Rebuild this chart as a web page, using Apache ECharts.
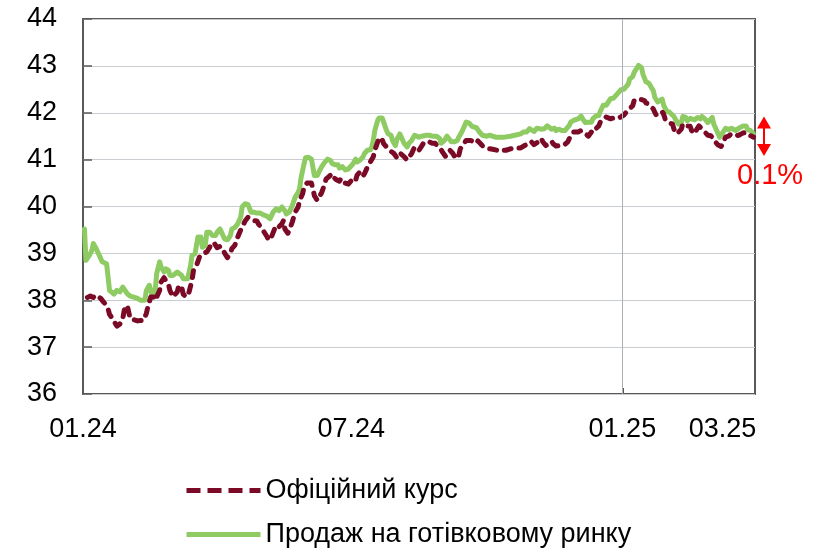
<!DOCTYPE html>
<html>
<head>
<meta charset="utf-8">
<script src="https://cdn.jsdelivr.net/npm/echarts@6/dist/echarts.min.js"></script>
<style>
  html, body { margin: 0; padding: 0; background: #fff; }
  #chart { width: 819px; height: 548px; }
</style>
</head>
<body>
<div id="chart"></div>
<script>
// UAH per USD. Each point is [day offset from 1 Jan 2024, rate].
const tickLabels = ['01.24', '07.24', '01.25', '03.25'];
const tickDays = [0, 182, 366, 434];
const lastDay = 456;
const yearStartDay = 366;

const officialName = 'Офіційний курс';
const cashName = 'Продаж на готівковому ринку';
const gapLabel = '0.1%';

const officialRate = [
  [3,38.06],[5,38.09],[7,38.06],[9,38.11],[10,38.11],[12,38.04],[14,37.96],[16,37.89],[17,37.82],[18,37.70],
  [20,37.61],[22,37.50],[23,37.45],[25,37.49],[27,37.61],[28,37.79],[30,37.89],[31,37.75],[32,37.61],[34,37.59],
  [35,37.61],[37,37.56],[39,37.57],[41,37.57],[42,37.61],[43,37.72],[44,37.86],[46,38.07],[47,38.09],[48,38.07],
  [49,38.00],[50,38.07],[52,38.21],[53,38.39],[55,38.48],[56,38.43],[58,38.34],[59,38.21],[61,38.07],[62,38.04],
  [64,38.18],[65,38.32],[67,38.27],[68,38.13],[70,38.07],[72,38.18],[74,38.43],[75,38.64],[77,38.74],[79,38.92],
  [81,38.99],[82,38.96],[84,39.03],[86,39.13],[87,39.21],[89,39.22],[91,39.12],[93,39.15],[95,39.10],[96,39.01],
  [98,38.91],[100,38.99],[101,39.10],[103,39.17],[105,39.35],[107,39.50],[108,39.56],[110,39.69],[112,39.77],[113,39.76],
  [115,39.70],[116,39.67],[118,39.69],[119,39.63],[121,39.55],[123,39.45],[125,39.35],[126,39.28],[128,39.36],[130,39.52],
  [131,39.60],[133,39.57],[135,39.63],[136,39.70],[137,39.52],[139,39.43],[140,39.49],[142,39.67],[144,39.88],[146,39.99],
  [147,40.13],[149,40.27],[150,40.41],[152,40.50],[153,40.52],[155,40.50],[156,40.38],[157,40.23],[159,40.13],[160,40.16],
  [162,40.30],[164,40.48],[165,40.59],[167,40.64],[169,40.70],[170,40.62],[172,40.57],[174,40.54],[175,40.59],[177,40.57],
  [178,40.50],[180,40.48],[182,40.55],[183,40.60],[185,40.56],[186,40.67],[188,40.74],[190,40.65],[191,40.70],[193,40.84],
  [195,40.95],[197,41.06],[198,41.20],[200,41.38],[201,41.47],[203,41.43],[204,41.34],[206,41.27],[208,41.20],[209,41.23],
  [211,41.13],[213,41.04],[215,41.14],[216,41.13],[218,41.06],[220,40.99],[221,41.00],[223,41.13],[225,41.27],[226,41.23],
  [228,41.20],[230,41.30],[231,41.35],[233,41.34],[235,41.38],[237,41.35],[238,41.38],[239,41.35],[241,41.27],[243,41.21],
  [244,41.16],[246,41.07],[248,41.13],[249,41.20],[251,41.13],[253,41.02],[255,41.09],[256,41.23],[258,41.33],[260,41.41],
  [261,41.45],[263,41.41],[265,41.38],[267,41.35],[268,41.40],[270,41.33],[272,41.27],[274,41.25],[276,41.23],[278,41.22],
  [281,41.20],[283,41.18],[285,41.20],[287,41.20],[290,41.23],[294,41.25],[297,41.25],[299,41.29],[302,41.34],[304,41.39],
  [306,41.32],[307,41.29],[309,41.38],[311,41.45],[312,41.38],[314,41.30],[316,41.34],[318,41.39],[319,41.34],[321,41.29],
  [322,41.32],[324,41.30],[326,41.30],[327,41.27],[329,41.38],[331,41.52],[333,41.59],[334,41.62],[336,41.59],[338,41.62],
  [339,41.66],[341,41.55],[343,41.50],[345,41.59],[346,41.67],[348,41.66],[350,41.72],[351,41.80],[353,41.87],[355,41.91],
  [356,41.91],[358,41.87],[360,41.89],[361,41.87],[363,41.88],[365,41.91],[367,41.95],[368,41.99],[370,42.06],[371,42.09],
  [373,42.15],[374,42.26],[376,42.29],[377,42.29],[379,42.28],[381,42.26],[382,42.21],[384,42.18],[385,42.15],[387,42.08],
  [388,42.01],[389,41.95],[391,41.99],[393,42.02],[394,41.97],[395,41.87],[397,41.79],[398,41.83],[400,41.76],[401,41.65],
  [403,41.55],[404,41.57],[406,41.65],[407,41.76],[409,41.72],[410,41.69],[412,41.71],[413,41.62],[415,41.55],[416,41.62],
  [418,41.72],[419,41.69],[421,41.62],[422,41.58],[424,41.52],[426,41.51],[428,41.45],[429,41.38],[431,41.31],[433,41.28],
  [434,41.33],[436,41.48],[438,41.50],[440,41.55],[441,41.55],[443,41.51],[445,41.52],[446,41.55],[448,41.57],[450,41.58],
  [451,41.57],[453,41.51],[455,41.48]
];

const cashSellRate = [
  [1,39.52],[2,38.85],[4,38.94],[6,39.06],[7,39.21],[9,39.10],[11,38.96],[13,38.82],[16,38.78],[17,38.50],
  [18,38.21],[21,38.13],[23,38.21],[25,38.18],[27,38.28],[28,38.27],[30,38.14],[32,38.09],[35,38.06],[37,38.04],
  [39,38.00],[42,38.00],[43,38.21],[45,38.32],[46,38.21],[47,38.09],[49,38.21],[50,38.57],[52,38.82],[53,38.71],
  [55,38.60],[56,38.67],[58,38.64],[59,38.53],[61,38.53],[64,38.60],[65,38.64],[67,38.53],[68,38.46],[71,38.46],
  [73,38.74],[74,38.96],[76,38.99],[78,39.35],[80,39.35],[81,39.13],[83,39.17],[84,39.45],[86,39.45],[88,39.38],
  [90,39.38],[91,39.45],[93,39.52],[95,39.38],[96,39.31],[98,39.29],[100,39.38],[101,39.52],[103,39.55],[105,39.63],
  [107,39.77],[108,39.99],[110,40.06],[112,40.04],[114,39.88],[116,39.88],[118,39.86],[120,39.86],[122,39.83],[125,39.79],
  [127,39.74],[129,39.88],[131,39.95],[133,39.91],[135,39.99],[137,39.91],[138,39.84],[140,39.88],[142,40.02],[144,40.20],
  [146,40.30],[147,40.38],[148,40.62],[150,40.91],[151,41.04],[153,41.05],[155,41.01],[156,40.84],[157,40.66],[159,40.66],
  [160,40.73],[162,40.85],[164,40.94],[166,41.01],[168,40.98],[169,40.92],[171,40.89],[173,40.89],[174,40.82],[176,40.85],
  [178,40.78],[180,40.80],[181,40.83],[183,40.90],[185,41.01],[186,40.95],[188,40.99],[190,41.06],[191,41.13],[193,41.20],
  [195,41.21],[196,41.27],[197,41.41],[198,41.62],[200,41.84],[201,41.89],[203,41.89],[204,41.80],[206,41.62],[207,41.55],
  [209,41.52],[210,41.41],[212,41.30],[213,41.43],[215,41.55],[216,41.52],[218,41.34],[220,41.27],[221,41.34],[223,41.41],
  [225,41.52],[226,41.55],[228,41.48],[230,41.50],[231,41.52],[233,41.52],[235,41.52],[237,41.50],[238,41.52],[240,41.50],
  [242,41.45],[243,41.35],[245,41.40],[247,41.50],[248,41.52],[250,41.38],[252,41.38],[254,41.41],[255,41.48],[257,41.59],
  [259,41.73],[260,41.80],[262,41.78],[264,41.71],[265,41.73],[267,41.68],[269,41.59],[271,41.52],[272,41.54],[274,41.50],
  [276,41.52],[280,41.48],[283,41.48],[286,41.48],[290,41.50],[293,41.52],[297,41.55],[299,41.59],[301,41.59],[303,41.66],
  [304,41.62],[306,41.60],[308,41.67],[309,41.70],[311,41.65],[313,41.66],[315,41.72],[316,41.70],[318,41.65],[320,41.67],
  [321,41.62],[323,41.65],[325,41.62],[327,41.62],[328,41.62],[330,41.73],[331,41.80],[333,41.84],[334,41.80],[336,41.87],
  [338,41.93],[339,41.87],[341,41.79],[343,41.80],[345,41.80],[346,41.87],[348,41.93],[350,41.94],[351,42.03],[353,42.16],
  [355,42.16],[356,42.19],[358,42.30],[360,42.31],[361,42.35],[363,42.42],[365,42.49],[367,42.50],[368,42.52],[370,42.61],
  [371,42.72],[373,42.77],[374,42.86],[376,42.96],[377,43.01],[379,42.96],[380,42.82],[382,42.66],[384,42.63],[385,42.59],
  [387,42.47],[388,42.33],[390,42.23],[391,42.26],[393,42.29],[394,42.16],[396,42.04],[398,42.01],[399,41.97],[401,41.92],
  [403,41.81],[404,41.76],[406,41.79],[407,41.92],[409,41.90],[410,41.83],[412,41.88],[413,41.90],[415,41.85],[417,41.90],
  [419,41.87],[420,41.92],[422,41.87],[424,41.79],[425,41.81],[427,41.90],[428,41.76],[430,41.62],[432,41.48],[433,41.45],
  [435,41.62],[436,41.67],[438,41.64],[440,41.67],[441,41.64],[443,41.62],[445,41.67],[446,41.64],[448,41.72],[450,41.72],
  [451,41.64],[453,41.62],[455,41.55]
];

// Range spanned by the gap arrow on the right
const gapArrowRange = [41.92, 41.08];

const FONT = '"Liberation Sans", Arial, Helvetica, sans-serif';
const frameColor = '#595959';
const officialColor = '#7b0a26';
const cashColor = '#8fcb63';

// One legend block per row so the two entries stack vertically;
// the line sample is kept, the point marker is hidden.
function legendRow(name, top, dash) {
  return {
    show: true, orient: 'horizontal', left: 184, top: top, padding: 0,
    itemWidth: 74, itemHeight: 14, itemGap: 0,
    itemStyle: { opacity: 0 },
    lineStyle: { width: 5, cap: 'butt', type: dash },
    textStyle: { fontSize: 27, fontFamily: FONT, color: '#000' },
    data: [name]
  };
}

const chart = echarts.init(document.getElementById('chart'), null, { renderer: 'canvas' });

chart.setOption({
  animation: false,
  backgroundColor: '#fff',
  grid: {
    left: 83, top: 19, width: 672, height: 375,
    show: true, borderColor: frameColor, borderWidth: 2, backgroundColor: 'transparent'
  },
  xAxis: {
    type: 'value', min: 0, max: lastDay,
    axisLine: { show: false },
    splitLine: { show: false },
    axisTick: {
      show: true, inside: true, length: 6, customValues: [yearStartDay],
      lineStyle: { color: frameColor, width: 2 }
    },
    axisLabel: {
      customValues: tickDays,
      formatter: (v) => tickLabels[tickDays.indexOf(v)],
      fontSize: 27, color: '#000', fontFamily: FONT, margin: 22
    }
  },
  yAxis: {
    type: 'value', min: 36, max: 44, interval: 1,
    axisLine: { show: false },
    axisTick: { show: true, inside: true, length: 9, lineStyle: { color: frameColor, width: 1.5 } },
    splitLine: { show: true, lineStyle: { color: '#c9cdd1', width: 1 } },
    axisLabel: { fontSize: 27, color: '#000', fontFamily: FONT, margin: 26 }
  },
  legend: [legendRow(officialName, 477, [14, 7]), legendRow(cashName, 521, 'solid')],
  series: [
    {
      name: 'divider', type: 'line', data: [], z: 1, silent: true,
      markLine: {
        silent: true, symbol: 'none', label: { show: false },
        lineStyle: { color: '#a9b0b6', width: 1, type: 'solid' },
        data: [{ xAxis: yearStartDay }]
      }
    },
    {
      name: cashName, type: 'line', data: cashSellRate, z: 2,
      showSymbol: false, symbol: 'none',
      lineStyle: { color: cashColor, width: 5, join: 'round', cap: 'round' },
      itemStyle: { color: cashColor }
    },
    {
      name: officialName, type: 'line', data: officialRate, z: 3,
      showSymbol: false, symbol: 'none',
      lineStyle: { color: officialColor, width: 5, type: [7, 8], cap: 'round', join: 'round' },
      itemStyle: { color: officialColor }
    }
  ]
});

// Double-headed arrow and label marking the gap at the end of the period
const topPt = chart.convertToPixel({ gridIndex: 0 }, [lastDay, gapArrowRange[0]]);
const botPt = chart.convertToPixel({ gridIndex: 0 }, [lastDay, gapArrowRange[1]]);
const ax = topPt[0] + 9;
const head = 12, half = 7;
chart.setOption({
  graphic: [
    { type: 'line', shape: { x1: ax, y1: topPt[1] + head - 1, x2: ax, y2: botPt[1] - head + 1 },
      style: { stroke: '#ff0000', lineWidth: 2 } },
    { type: 'polygon', shape: { points: [[ax, topPt[1]], [ax - half, topPt[1] + head], [ax + half, topPt[1] + head]] },
      style: { fill: '#ff0000' } },
    { type: 'polygon', shape: { points: [[ax, botPt[1]], [ax - half, botPt[1] - head], [ax + half, botPt[1] - head]] },
      style: { fill: '#ff0000' } },
    { type: 'text', left: 737, top: 161,
      style: { text: gapLabel, fill: '#ff0000', font: '29px ' + FONT } }
  ]
});
</script>
</body>
</html>
